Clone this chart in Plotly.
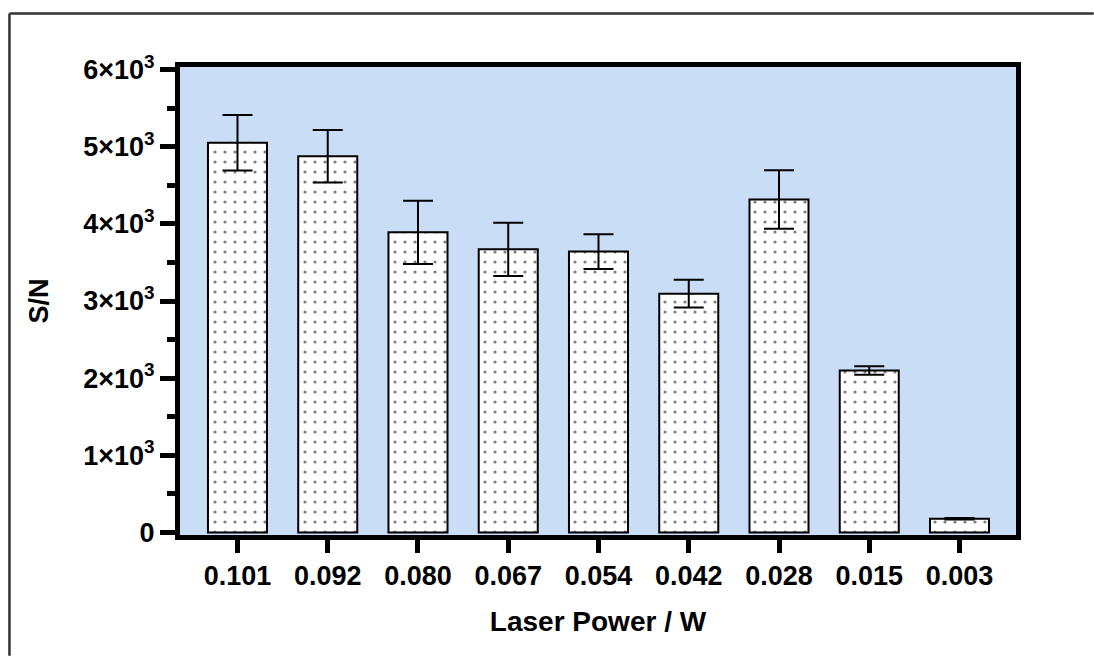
import plotly.graph_objects as go

categories = ["0.101", "0.092", "0.080", "0.067", "0.054", "0.042", "0.028", "0.015", "0.003"]
sn_values = [5050, 4875, 3890, 3670, 3640, 3095, 4315, 2100, 178]
sn_errors = [360, 340, 410, 345, 225, 180, 380, 55, 10]
ytick_vals = [0, 1000, 2000, 3000, 4000, 5000, 6000]
ytick_text = ["0", "1×10<sup>3</sup>", "2×10<sup>3</sup>", "3×10<sup>3</sup>",
              "4×10<sup>3</sup>", "5×10<sup>3</sup>", "6×10<sup>3</sup>"]
yminor_vals = [500, 1500, 2500, 3500, 4500, 5500]

FONT = "Liberation Sans, Arial, sans-serif"
FS = 27

fig = go.Figure()
fig.add_trace(go.Bar(
    x=categories,
    y=sn_values,
    width=0.654,
    marker=dict(
        color="white",
        line=dict(color="black", width=2),
        pattern=dict(shape=".", fgcolor="black", bgcolor="white", size=10, solidity=0.08),
    ),
    error_y=dict(type="data", array=sn_errors, visible=True, color="black", thickness=2, width=15),
))

FX0, FY1 = -0.204, 1.1143
fig.update_layout(
    width=1094, height=656,
    margin=dict(l=180, r=78, t=67, b=121),
    paper_bgcolor="white",
    plot_bgcolor="#C9DDF6",
    showlegend=False,
    font=dict(family=FONT, color="black", size=FS, weight="bold"),
    xaxis=dict(
        type="category",
        range=[-0.637, 8.626],
        showline=True, linewidth=5, linecolor="black", mirror=True,
        ticks="outside", ticklen=13, tickwidth=5, tickcolor="black",
        tickfont=dict(family=FONT, size=FS, weight="bold"),
        showgrid=False, zeroline=False,
        title=dict(text="Laser Power / W", font=dict(family=FONT, size=28, weight="bold"), standoff=22),
    ),
    yaxis=dict(
        range=[-32, 6032],
        showline=True, linewidth=5, linecolor="black", mirror=True,
        tickmode="array", tickvals=ytick_vals, ticktext=ytick_text,
        ticks="outside", ticklen=15, tickwidth=5, tickcolor="black",
        tickfont=dict(family=FONT, size=FS, weight="bold"),
        minor=dict(tickmode="array", tickvals=yminor_vals, ticks="outside", ticklen=8, tickwidth=5, tickcolor="black", showgrid=False),
        showgrid=False, zeroline=False,
        title=dict(text="S/N", font=dict(family=FONT, size=FS, weight="bold"), standoff=28),
    ),
    shapes=[
        dict(type="line", xref="paper", yref="paper", x0=FX0, x1=FX0, y0=-0.258, y1=FY1,
             line=dict(color="#333333", width=2.5), layer="below"),
        dict(type="line", xref="paper", yref="paper", x0=FX0, x1=1.093, y0=FY1, y1=FY1,
             line=dict(color="#333333", width=2.5), layer="below"),
    ],
)

fig.write_html("out.html")
